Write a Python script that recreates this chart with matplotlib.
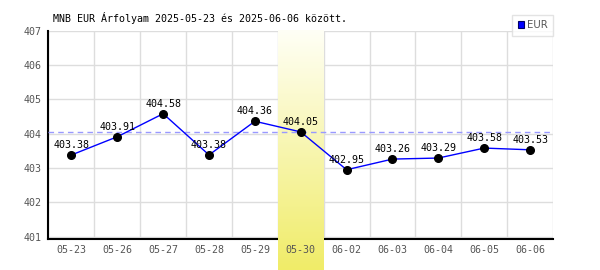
import matplotlib
matplotlib.use("Agg")
import matplotlib.pyplot as plt
import numpy as np
from matplotlib.patches import Patch
from matplotlib.colors import LinearSegmentedColormap

dates = ["05-23", "05-26", "05-27", "05-28", "05-29", "05-30",
         "06-02", "06-03", "06-04", "06-05", "06-06"]
values = [403.38, 403.91, 404.58, 403.38, 404.36, 404.05,
          402.95, 403.26, 403.29, 403.58, 403.53]
labels = ["403.38", "403.91", "404.58", "403.38", "404.36", "404.05",
          "402.95", "403.26", "403.29", "403.58", "403.53"]
yticks = [401, 402, 403, 404, 405, 406, 407]
highlight_index = 5
series_name = "EUR"
title = "MNB EUR Árfolyam 2025-05-23 és 2025-06-06 között."

FONT = "DejaVu Sans Mono"
fig = plt.figure(figsize=(6, 2.7), dpi=100)
L, R, T, B = 48.5, 553, 30.5, 238.5
rect = [L / 600, 1 - B / 270, (R - L) / 600, (B - T) / 270]
ax = fig.add_axes(rect)

x = np.arange(len(dates))
xlim = (-0.5, len(dates) - 0.5)
ymin, ymax = 400.95, 407.0
ax.set_xlim(*xlim)
ax.set_ylim(ymin, ymax)

# grid
ax.set_xticks(x)
ax.set_xticks(np.arange(-0.5, len(dates), 1.0), minor=True)
ax.set_yticks(yticks)
ax.grid(True, which="minor", axis="x", color="#dddddd", lw=1, zorder=0.5)
ax.grid(True, which="major", axis="y", color="#dddddd", lw=1, zorder=0.5)
ax.grid(False, which="major", axis="x")
ax.set_axisbelow(True)
ax.tick_params(which="both", length=0)
ax.tick_params(axis="x", labelbottom=False)
ax.tick_params(axis="y", pad=5, labelsize=7.2, labelcolor="#555555")
ax.set_yticklabels([str(v) for v in yticks], fontfamily=FONT)

for s in ["top", "right"]:
    ax.spines[s].set_visible(False)
for s in ["left", "bottom"]:
    ax.spines[s].set_color("black")
    ax.spines[s].set_linewidth(1.5)

# highlight band gradient extending below axes to figure bottom
px_per_unit = (B - T) / (ymax - ymin)
y_bottom = ymin - (270 - B) / px_per_unit
cmap = LinearSegmentedColormap.from_list("hl", ["#fffff6", "#f0ec68"])
grad = np.linspace(0, 1, 256).reshape(-1, 1)
ax.imshow(grad, cmap=cmap, aspect="auto", origin="upper",
          extent=(highlight_index - 0.5, highlight_index + 0.5, y_bottom, ymax),
          clip_on=False, zorder=2.6, interpolation="bilinear")

# reference dashed line
ax.axhline(values[highlight_index], color="#9999ff", lw=1, ls=(0, (4, 3)), zorder=2.7)

ax.plot(x, values, color="#0000ff", lw=1, zorder=3)
ax.plot(x, values, "o", color="black", ms=5.5, zorder=4)
for xi, v, lab in zip(x, values, labels):
    ax.annotate(lab, (xi, v), xytext=(0, 3.5), textcoords="offset points",
                ha="center", va="bottom", fontsize=7.2, fontfamily=FONT,
                color="black", zorder=5)

ax.set_xlim(*xlim)
ax.set_ylim(ymin, ymax)

# overlay axes for x tick labels (drawn above the highlight band)
ax2 = fig.add_axes(rect, zorder=ax.get_zorder() + 1)
ax2.set_facecolor("none")
ax2.set_xlim(*xlim)
ax2.set_ylim(ymin, ymax)
for s in ax2.spines.values():
    s.set_visible(False)
ax2.set_yticks([])
ax2.set_xticks(x)
ax2.set_xticklabels(dates, fontfamily=FONT)
ax2.tick_params(axis="x", length=0, pad=5, labelsize=7.2, labelcolor="#555555")

fig.text(53 / 600, 1 - 22 / 270, title, fontsize=7.2, fontfamily=FONT,
         color="black", ha="left", va="baseline")

leg = ax2.legend(handles=[Patch(facecolor="#0000ff", edgecolor="#000066", lw=0.8)],
                 labels=[series_name], loc="upper right",
                 bbox_to_anchor=(553 / 600, 1 - 14.5 / 270),
                 bbox_transform=fig.transFigure, frameon=True, fancybox=False,
                 edgecolor="#dddddd", borderpad=0.55, handlelength=0.6,
                 handleheight=0.6, handletextpad=0.3, borderaxespad=0,
                 prop={"family": "DejaVu Sans", "size": 7.3})
for t in leg.get_texts():
    t.set_color("#555555")
leg.get_frame().set_linewidth(1)

fig.savefig("out.png", dpi=100)
